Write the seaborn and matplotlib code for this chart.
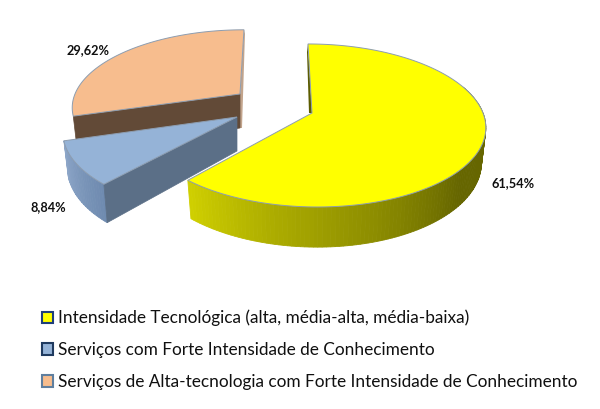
import numpy as np
import matplotlib
matplotlib.use("Agg")
import matplotlib.pyplot as plt
from matplotlib.patches import Patch
import seaborn as sns

# DATA ---------------------------------------------------------------
CATEGORIES = ["Intensidade Tecnológica (alta, média-alta, média-baixa)",
              "Serviços com Forte Intensidade de Conhecimento",
              "Serviços de Alta-tecnologia com Forte Intensidade de Conhecimento"]
VALUES = [61.54, 8.84, 29.62]

# LOOK ---------------------------------------------------------------
TOP_COLORS = ["#ffff00", "#95b3d7", "#f7bd8e"]
MARKER_EDGES = ["#1f3f7a", "#1f3a5f", "#5f7f9f"]
FONT = "Lato"
RX, H, K = 171, 79.6, 0.153   # ellipse width, height and perspective strength
DEPTH = 34

# apex of each exploded slice, shear of the depth direction, radius scales
APEX = [(312, 113), (237, 117), (240, 94)]
SHEAR = [-4.6, 6, 4.6]
SCALE_X = [1.0, 1.0, 0.965]
SCALE_Y = [1.0, 1.0, 0.93]
LABEL_XY = [(513, 183), (48, 207), (88, 50)]


def project(theta, i):
	"""Clockwise angle from the top (degrees) to a point on the rim of slice i"""
	t = np.radians(theta)
	u, v = np.sin(t), np.cos(t)
	w = 1 + K * v
	x = APEX[i][0] + (RX * SCALE_X[i] * u + SHEAR[i] * v) / w
	y = APEX[i][1] - H * SCALE_Y[i] * v / w
	return x, y


def lower(theta, i):
	"""Same rim point on the bottom of the slab"""
	x, y = project(theta, i)
	w = 1 + K * np.cos(np.radians(theta))
	return APEX[i][0] + (x - APEX[i][0]) * 0.975, y + DEPTH / w


def outer_wall(t0, t1, i, colors):
	edges = np.linspace(t0, t1, len(colors) + 1)
	for a, b, c in zip(edges[:-1], edges[1:], colors):
		ts = np.linspace(a, b, 4)
		xt, yt = project(ts, i)
		xb, yb = lower(ts, i)
		ax.fill(np.r_[xt, xb[::-1]], np.r_[yt, yb[::-1]], color=c, lw=0.6)


def top_face(t0, t1, i):
	ts = np.linspace(t0, t1, 150)
	xs, ys = project(ts, i)
	ax.fill(np.r_[APEX[i][0], xs], np.r_[APEX[i][1], ys], facecolor=TOP_COLORS[i],
		edgecolor="#8d9db0", lw=0.7, zorder=3)


# MAIN SCRIPT --------------------------------------------------------
sns.set_theme(style="white")
plt.rcParams['font.family'] = [FONT, 'DejaVu Sans']

fig = plt.figure(figsize=(6.0, 4.09), dpi=100)
ax = fig.add_axes([0, 0, 1, 1])
ax.set_xlim(0, 600)
ax.set_ylim(409, 0)
ax.axis("off")

# slice angles, clockwise from the top
ends = np.cumsum(VALUES) / np.sum(VALUES) * 360
starts = np.r_[0, ends[:-1]]

# peach slice: thin right wall, brown left wall, then top
x0, y0 = project(360, 2)
ax.fill([x0, APEX[2][0], APEX[2][0], APEX[2][0] + 2, x0 + 1],
	[y0, APEX[2][1], APEX[2][1] + DEPTH, APEX[2][1] + DEPTH, y0 + 4],
	color="#c2a48c", lw=0)
xl, yl = project(starts[2], 2)
xb, yb = lower(starts[2], 2)
ax.fill([APEX[2][0], xl, xb, APEX[2][0]], [APEX[2][1], yl, yb, APEX[2][1] + DEPTH],
	color="#624a37", lw=0.5)
top_face(starts[2], ends[2], 2)

# blue slice
outer_wall(starts[1], ends[1], 1, sns.blend_palette(["#6f8bb0", "#8da6c8"], 24))
xr, yr = project(starts[1], 1)
xb, yb = lower(starts[1], 1)
ax.fill([APEX[1][0], xr, xb, APEX[1][0]], [APEX[1][1], yr, yb, APEX[1][1] + DEPTH],
	color="#5b6f87", lw=0.5)
top_face(starts[1], ends[1], 1)

# yellow slice
x0, y0 = project(0, 0)
ax.fill([x0, APEX[0][0], APEX[0][0] - 3, x0 - 1], [y0, APEX[0][1], APEX[0][1], y0 + 8],
	color="#5c5c00", lw=0)
outer_wall(70, ends[0] - starts[0], 0,
	sns.blend_palette(["#757500", "#666600", "#666600", "#8a8a00", "#aaaa00", "#cfcf00"], 120))
top_face(starts[0], ends[0], 0)

# percentage labels
for v, (lx, ly) in zip(VALUES, LABEL_XY):
	ax.text(lx, ly, f"{v:.2f}%".replace(".", ","), ha="center", va="center",
		fontsize=9.2, fontweight="bold", color="#101010", zorder=5)

handles = [Patch(facecolor=c, edgecolor=e, linewidth=1.5)
	for c, e in zip(TOP_COLORS, MARKER_EDGES)]
ax.legend(handles, CATEGORIES, loc="upper left", bbox_to_anchor=(0.07, 0.2424),
	frameon=False, fontsize=12.45, labelspacing=0.91, handlelength=0.65, handleheight=0.65,
	handletextpad=0.29, borderpad=0, borderaxespad=0, labelcolor="#101010")

fig.savefig("out.png", dpi=100)
